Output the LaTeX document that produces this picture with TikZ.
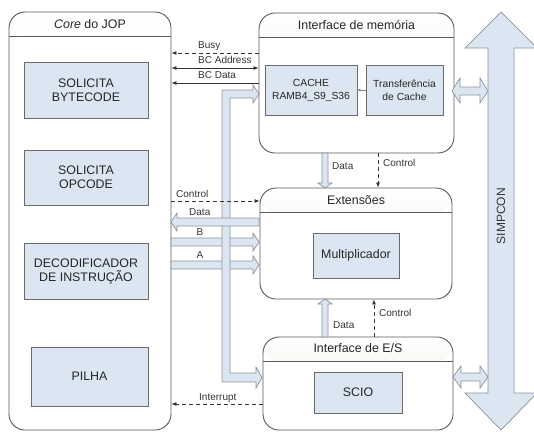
\documentclass[tikz,border=0pt]{standalone}
\usepackage{fontspec}
\setmainfont{Liberation Sans}
\usetikzlibrary{arrows.meta}
\definecolor{boxfill}{HTML}{DCE6F2}
\definecolor{boxline}{HTML}{6A6A6A}
\definecolor{busline}{HTML}{8C919B}
\definecolor{hdrbot}{HTML}{E4E4DA}
\tikzset{
  container/.style={draw=black!65, line width=0.9pt, rounded corners=16pt, fill=white, inner sep=0pt,
    path picture={
      \shade[top color=white, bottom color=hdrbot] (path picture bounding box.north west)
        rectangle ([yshift=-24pt]path picture bounding box.north east);
      \draw[black!65, line width=0.9pt] ([yshift=-24pt]path picture bounding box.north west)
        -- ([yshift=-24pt]path picture bounding box.north east);}},
  title/.style={font=\fontsize{12.4}{14}\selectfont, text=black!85},
  unit/.style={draw=boxline, line width=0.8pt, fill=boxfill, align=center, text=black!85,
    font=\fontsize{12.4}{14}\selectfont},
  smallunit/.style={unit, font=\fontsize{10.3}{13}\selectfont},
  fatarrow/.style={fill=boxfill, draw=busline, line width=0.7pt},
  sig/.style={line width=0.7pt, black!80, ->},
  ctl/.style={sig, dash pattern=on 4pt off 3pt},
  lbl/.style={font=\fontsize{10}{12}\selectfont, text=black!80, inner sep=0pt}
}
\begin{document}
\begin{tikzpicture}[x=1pt, y=-1pt, >={Latex[length=5pt,width=4pt]}]
\useasboundingbox (0,0) rectangle (534,431);

% blocos principais
\node[container, minimum width=162pt, minimum height=418pt] (core) at (90,221) {};
\node[title] (coretitle) at ([yshift=-12.5pt]core.north) {\textit{Core} do JOP};
\node[container, minimum width=195pt, minimum height=140pt] (mem) at (356.5,83) {};
\node[title] (memtitle) at ([yshift=-12pt]mem.north) {Interface de memória};
\node[container, minimum width=192pt, minimum height=111pt] (ext) at (356,243.5) {};
\node[title] (exttitle) at ([yshift=-12.5pt]ext.north) {Extensões};
\node[container, minimum width=190pt, minimum height=93pt] (eio) at (358,383.5) {};
\node[title] (eiotitle) at ([yshift=-12pt]eio.north) {Interface de E/S};

% unidades internas
\node[unit, minimum width=124pt, minimum height=56pt] (bytecode) at (86,90) {SOLICITA\\BYTECODE};
\node[unit, minimum width=124pt, minimum height=55pt] (opcode) at (86,177.5) {SOLICITA\\OPCODE};
\node[unit, minimum width=124pt, minimum height=56pt] (decod) at (86,271) {DECODIFICADOR\\DE INSTRUÇÃO};
\node[unit, minimum width=117pt, minimum height=59pt] (pilha) at (89.5,376.5) {PILHA};
\node[smallunit, minimum width=92pt, minimum height=50pt] (cache) at (311,90) {CACHE\\RAMB4\_S9\_S36};
\node[smallunit, minimum width=77pt, minimum height=50pt] (transf) at (404.5,90) {Transferência\\de Cache};
\node[unit, minimum width=86pt, minimum height=45pt] (mult) at (356,255.5) {Multiplicador};
\node[unit, minimum width=88pt, minimum height=41pt] (scio) at (358,392.5) {SCIO};

\draw[line width=0.6pt, gray, -{Latex[length=3pt,width=3pt]}] (transf.west) -- (cache.east);

% barramento SIMPCON
\draw[fatarrow] (501,12) -- (537,48) -- (514,48) -- (514,393) -- (537,393) -- (501,430)
  -- (465,393) -- (488,393) -- (488,48) -- (465,48) -- cycle;
\node[lbl, rotate=90, font=\fontsize{12}{14}\selectfont] (simpcon) at (501,216) {SIMPCON};
\draw[fatarrow] (452,91) -- (460,78) -- (460,87) -- (480,87) -- (480,78) -- (488,91)
  -- (480,103) -- (480,95) -- (460,95) -- (460,103) -- cycle;
\draw[fatarrow] (453,377) -- (461,366) -- (461,373) -- (480,373) -- (480,366) -- (488,377)
  -- (480,388) -- (480,381) -- (461,381) -- (461,388) -- cycle;

% operandos B e A
\draw[fatarrow] (171,238) -- (253,238) -- (253,233) -- (259,242) -- (253,251) -- (253,246) -- (171,246) -- cycle;
\draw[fatarrow] (171,261) -- (253,261) -- (253,256) -- (259,265) -- (253,274) -- (253,269) -- (171,269) -- cycle;
% barramento de bytecode
\draw[fatarrow] (222,90) -- (253,90) -- (253,85) -- (259,94) -- (253,103) -- (253,98) -- (230,98)
  -- (230,373) -- (256,373) -- (256,367) -- (262,377.5) -- (256,388) -- (256,382) -- (222,382) -- cycle;
% resultado
\draw[fatarrow] (259,218) -- (177,218) -- (177,213) -- (171,222) -- (177,231) -- (177,226) -- (259,226) -- cycle;
% dados entre blocos
\draw[fatarrow] (322,153) -- (328,153) -- (328,183) -- (332,183) -- (325,188) -- (318,183) -- (322,183) -- cycle;
\draw[fatarrow] (322,337) -- (328,337) -- (328,304) -- (332,304) -- (325,299) -- (318,304) -- (322,304) -- cycle;

% sinais
\draw[ctl] (mem.west |- 0,53) -- (core.east |- 0,53);
\draw[sig, <->] (core.east |- 0,68) -- (mem.west |- 0,68);
\draw[sig] (mem.west |- 0,83) -- (core.east |- 0,83);
\draw[ctl] (core.east |- 0,201) -- (ext.west |- 0,201);
\draw[ctl] (eio.west |- 0,404) -- (core.east |- 0,404);
\draw[ctl] (mem.south -| 378,0) -- (ext.north -| 378,0);
\draw[ctl] (eio.north -| 374,0) -- (ext.south -| 374,0);

% rotulos
\node[lbl, anchor=base west] (busy) at (198,48) {Busy};
\node[lbl, anchor=base west] (bcaddr) at (198,63) {BC Address};
\node[lbl, anchor=base west] (bcdata) at (198,78) {BC Data};
\node[lbl, anchor=base west] (ctlcore) at (176,197) {Control};
\node[lbl, anchor=base west] (datacore) at (189,215) {Data};
\node[lbl, anchor=base] (lblb) at (200,235) {B};
\node[lbl, anchor=base] (lbla) at (200,258) {A};
\node[lbl, anchor=base west] (intr) at (199,400) {Interrupt};
\node[lbl, anchor=west] (datamem) at (332,166) {Data};
\node[lbl, anchor=west] (ctlmem) at (383,163) {Control};
\node[lbl, anchor=west] (dataeio) at (333,325) {Data};
\node[lbl, anchor=west] (ctleio) at (379,313) {Control};
\end{tikzpicture}
\end{document}
